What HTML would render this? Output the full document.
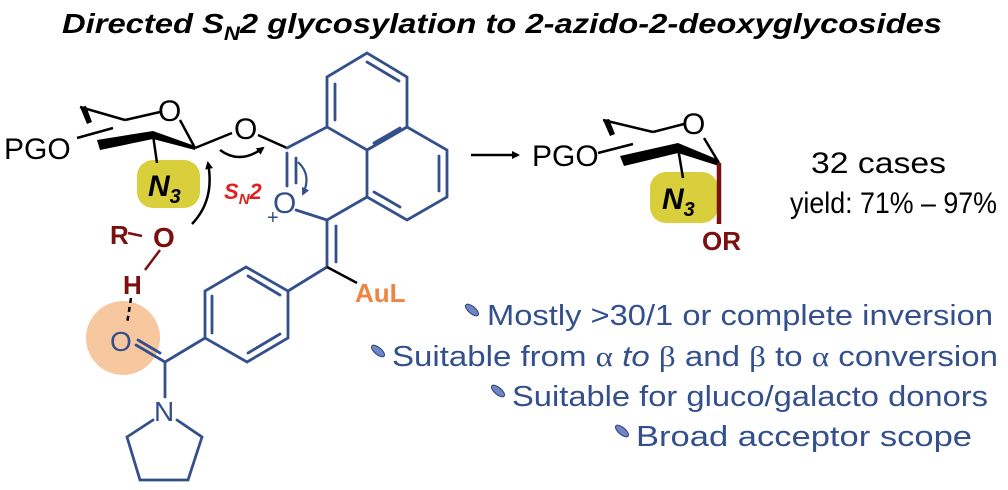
<!DOCTYPE html>
<html><head><meta charset="utf-8"><style>
html,body{margin:0;padding:0;background:#fff;}
svg{display:block;}
text{font-family:"Liberation Sans",sans-serif;}
</style></head><body>
<svg width="1008" height="490" viewBox="0 0 1008 490" xmlns="http://www.w3.org/2000/svg">
<defs>
<marker id="ah" markerWidth="8" markerHeight="8" refX="6" refY="4" orient="auto" markerUnits="userSpaceOnUse"><path d="M0,0 L8,4 L0,8 z" fill="#000"/></marker>
<marker id="ahb" markerWidth="8" markerHeight="8" refX="6" refY="4" orient="auto" markerUnits="userSpaceOnUse"><path d="M0,0 L8,4 L0,8 z" fill="#34508c"/></marker>
</defs>
<text x="62" y="33" font-size="28" font-weight="bold" font-style="italic" textLength="880" lengthAdjust="spacingAndGlyphs">Directed S<tspan font-size="19" dy="7">N</tspan><tspan dy="-7">2 glycosylation  to 2-azido-2-deoxyglycosides</tspan></text>

<rect x="137" y="160" width="63" height="48" rx="16" fill="#d9cf3c"/>
<circle cx="123" cy="338" r="37" fill="#f7c7a0"/>
<rect x="650" y="172" width="68" height="51" rx="16" fill="#d9cf3c"/>

<g stroke="#000" stroke-width="2.5" fill="none">
<line x1="80" y1="107" x2="125" y2="120"/>
<line x1="125" y1="120" x2="160" y2="112"/>
<line x1="180" y1="120" x2="195" y2="148"/>
<line x1="77" y1="138" x2="113" y2="128"/>
<line x1="153" y1="135" x2="157" y2="163"/>
<line x1="195" y1="148" x2="232" y2="133"/>
<line x1="258" y1="135" x2="287" y2="148"/>
</g>
<polygon points="80,107 86,106 92,122 87,124" fill="#000"/>
<polygon points="97,140 100,150 153,139 195,150 195,146 153,131" fill="#000"/>
<text x="4" y="159" font-size="30">PGO</text>
<text x="158" y="121" font-size="30">O</text>
<text x="234" y="139" font-size="30">O</text>
<text x="148" y="196" font-size="30" font-weight="bold" font-style="italic">N<tspan font-size="20" dy="7">3</tspan></text>

<path d="M220,150 Q240,165 263,148" stroke="#000" stroke-width="2.5" fill="none" marker-end="url(#ah)"/>
<path d="M192,224 Q215,200 208,163" stroke="#000" stroke-width="2.5" fill="none" marker-end="url(#ah)"/>
<path d="M298,162 Q312,175 303,194" stroke="#34508c" stroke-width="2.2" fill="none" marker-end="url(#ahb)"/>
<text x="224" y="199" font-size="22" font-weight="bold" font-style="italic" fill="#e02020">S<tspan font-size="15" dy="5">N</tspan><tspan dy="-5">2</tspan></text>

<g stroke="#34508c" stroke-width="2.8" fill="none" stroke-linecap="round">
<polygon points="327,77 367,53 407,77 407,127 367,150 327,127"/>
<polygon points="407,127 447,150 447,197 407,220 367,197 367,150"/>
<line x1="335" y1="84" x2="335" y2="120"/><line x1="367" y1="62" x2="399" y2="81"/><line x1="374" y1="143" x2="400" y2="128"/>
<line x1="439" y1="156" x2="439" y2="191"/><line x1="374" y1="192" x2="400" y2="207"/>
<line x1="287" y1="148" x2="327" y2="127"/>
<line x1="287" y1="153" x2="287" y2="186"/><line x1="296" y1="158" x2="296" y2="183"/>
<line x1="296" y1="210" x2="327" y2="220"/>
<line x1="327" y1="220" x2="367" y2="197"/>
<line x1="327" y1="220" x2="327" y2="267"/><line x1="336" y1="226" x2="336" y2="262"/>
<polygon points="246,267 288,291 288,338 247,362 205,338 205,291"/>
<line x1="212" y1="296" x2="212" y2="333"/><line x1="248" y1="276" x2="280" y2="295"/><line x1="248" y1="353" x2="280" y2="334"/>
<line x1="288" y1="291" x2="327" y2="267"/>
<line x1="205" y1="338" x2="165" y2="362"/>
<line x1="165" y1="362" x2="136" y2="345"/><line x1="160" y1="353" x2="138" y2="340"/>
<line x1="165" y1="362" x2="165" y2="397"/>
<polyline points="153,420 127,437 140,480 188,480 202,437 177,420"/>
</g>
<line x1="327" y1="267" x2="357" y2="283" stroke="#000" stroke-width="2.5"/>
<text x="273" y="213" font-size="30" fill="#34508c">O</text>
<text x="267" y="224" font-size="20" fill="#34508c">+</text>
<text x="110" y="351" font-size="28" fill="#34508c">O</text>
<text x="154" y="421" font-size="28" fill="#34508c">N</text>
<text x="355" y="302" font-size="26" font-weight="bold" fill="#f08442">AuL</text>

<text x="110" y="244" font-size="26" font-weight="bold" fill="#7a1010">R</text>
<line x1="128" y1="233" x2="142" y2="236" stroke="#7a1010" stroke-width="2.5"/>
<text x="153" y="247" font-size="28" font-weight="bold" fill="#7a1010">O</text>
<line x1="160" y1="250" x2="145" y2="270" stroke="#7a1010" stroke-width="2.5"/>
<text x="123" y="294" font-size="26" font-weight="bold" fill="#7a1010">H</text>
<line x1="131" y1="298" x2="127" y2="324" stroke="#000" stroke-width="2.5" stroke-dasharray="5,4"/>

<line x1="471" y1="155" x2="518" y2="155" stroke="#000" stroke-width="2.5" marker-end="url(#ah)"/>

<g stroke="#000" stroke-width="2.5" fill="none">
<line x1="603" y1="120" x2="653" y2="132"/>
<line x1="653" y1="132" x2="684" y2="124"/>
<line x1="704" y1="138" x2="719" y2="163"/>
<line x1="598" y1="153" x2="633" y2="144"/>
<line x1="678" y1="148" x2="683" y2="178"/>
</g>
<polygon points="603,120 609,119 615,134 610,136" fill="#000"/>
<polygon points="620,156 624,166 678,153 719,166 719,160 678,143" fill="#000"/>
<line x1="719" y1="163" x2="719" y2="224" stroke="#7a1010" stroke-width="4.5"/>
<text x="532" y="166" font-size="30">PGO</text>
<text x="682" y="134" font-size="30">O</text>
<text x="662" y="209" font-size="30" font-weight="bold" font-style="italic">N<tspan font-size="20" dy="7">3</tspan></text>
<text x="702" y="250" font-size="26" font-weight="bold" fill="#7a1010">OR</text>
<text x="811" y="173" font-size="30" textLength="135" lengthAdjust="spacingAndGlyphs">32 cases</text>
<text x="790" y="213" font-size="30" textLength="207" lengthAdjust="spacingAndGlyphs">yield: 71% – 97%</text>

<g fill="#34508c" font-size="29">
<text x="993" y="325" text-anchor="end" textLength="506" lengthAdjust="spacingAndGlyphs">Mostly &gt;30/1 or complete inversion</text>
<text x="998" y="366" text-anchor="end" textLength="606" lengthAdjust="spacingAndGlyphs">Suitable from <tspan font-family="Liberation Serif">α</tspan> <tspan font-style="italic">to</tspan> <tspan font-family="Liberation Serif">β</tspan> and <tspan font-family="Liberation Serif">β</tspan> to <tspan font-family="Liberation Serif">α</tspan> conversion</text>
<text x="988" y="406" text-anchor="end" textLength="476" lengthAdjust="spacingAndGlyphs">Suitable for gluco/galacto donors</text>
<text x="972" y="446" text-anchor="end" textLength="336" lengthAdjust="spacingAndGlyphs">Broad acceptor scope</text>
</g>
<g fill="#6f86c4" stroke="#2c4280" stroke-width="1">
<ellipse cx="472" cy="310" rx="8" ry="3.5" transform="rotate(40 472 310)"/>
<ellipse cx="378" cy="351" rx="8" ry="3.5" transform="rotate(40 378 351)"/>
<ellipse cx="498" cy="391" rx="8" ry="3.5" transform="rotate(40 498 391)"/>
<ellipse cx="622" cy="431" rx="8" ry="3.5" transform="rotate(40 622 431)"/>
</g>
</svg>
</body></html>
